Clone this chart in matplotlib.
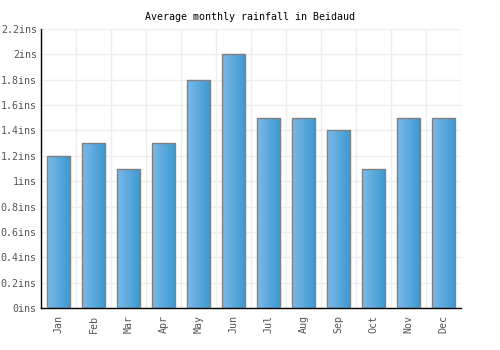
import numpy as np
import matplotlib
matplotlib.use("Agg")
import matplotlib.pyplot as plt
from matplotlib.colors import LinearSegmentedColormap

months = ["Jan", "Feb", "Mar", "Apr", "May", "Jun",
          "Jul", "Aug", "Sep", "Oct", "Nov", "Dec"]
rainfall = [1.2, 1.3, 1.1, 1.3, 1.8, 2.0, 1.5, 1.5, 1.4, 1.1, 1.5, 1.5]
yticks = [0, 0.2, 0.4, 0.6, 0.8, 1.0, 1.2, 1.4, 1.6, 1.8, 2.0, 2.2]
ylabels = ["0ins", "0.2ins", "0.4ins", "0.6ins", "0.8ins", "1ins", "1.2ins",
           "1.4ins", "1.6ins", "1.8ins", "2ins", "2.2ins"]

plt.rcParams['font.family'] = ['DejaVu Sans Mono']

fig = plt.figure(figsize=(5, 3.5), dpi=100)
ax = fig.add_axes([0.082, 0.12, 0.84, 0.797])

x = np.arange(len(months))
bars = ax.bar(x, rainfall, width=0.66, color='none', edgecolor='#808080',
              linewidth=1, zorder=3)

# horizontal gradient fill, light left -> darker right
cmap = LinearSegmentedColormap.from_list("g", ["#7ab9ea", "#3b99d0"])
grad = np.linspace(0, 1, 64).reshape(1, -1)
for b in bars:
    x0, y0 = b.get_x(), b.get_y()
    im = ax.imshow(grad, cmap=cmap, aspect='auto', zorder=2,
                   extent=[x0, x0 + b.get_width(), y0, y0 + b.get_height()])
    im.set_clip_path(b)

ax.set_xlim(-0.5, 11.5)
ax.set_ylim(0, 2.2)
ax.set_yticks(yticks)
ax.set_yticklabels(ylabels)
ax.set_xticks(x)
ax.set_xticklabels(months, rotation=90)
ax.set_xticks(np.arange(-0.5, 12, 1), minor=True)
ax.grid(True, which='minor', axis='x', color='#eeeeee', linewidth=1, zorder=0)
ax.grid(True, which='major', axis='y', color='#eeeeee', linewidth=1, zorder=0)
ax.tick_params(axis='both', which='both', length=0, labelsize=7.2,
               colors='#555555')
ax.tick_params(axis='y', pad=3)
ax.tick_params(axis='x', pad=5)

for s in ['top', 'right']:
    ax.spines[s].set_visible(False)
for s in ['left', 'bottom']:
    ax.spines[s].set_color('black')
    ax.spines[s].set_linewidth(1)

fig.suptitle("Average monthly rainfall in Beidaud", fontsize=7.2, x=0.5, y=0.965)

fig.savefig("out.png", dpi=100)
